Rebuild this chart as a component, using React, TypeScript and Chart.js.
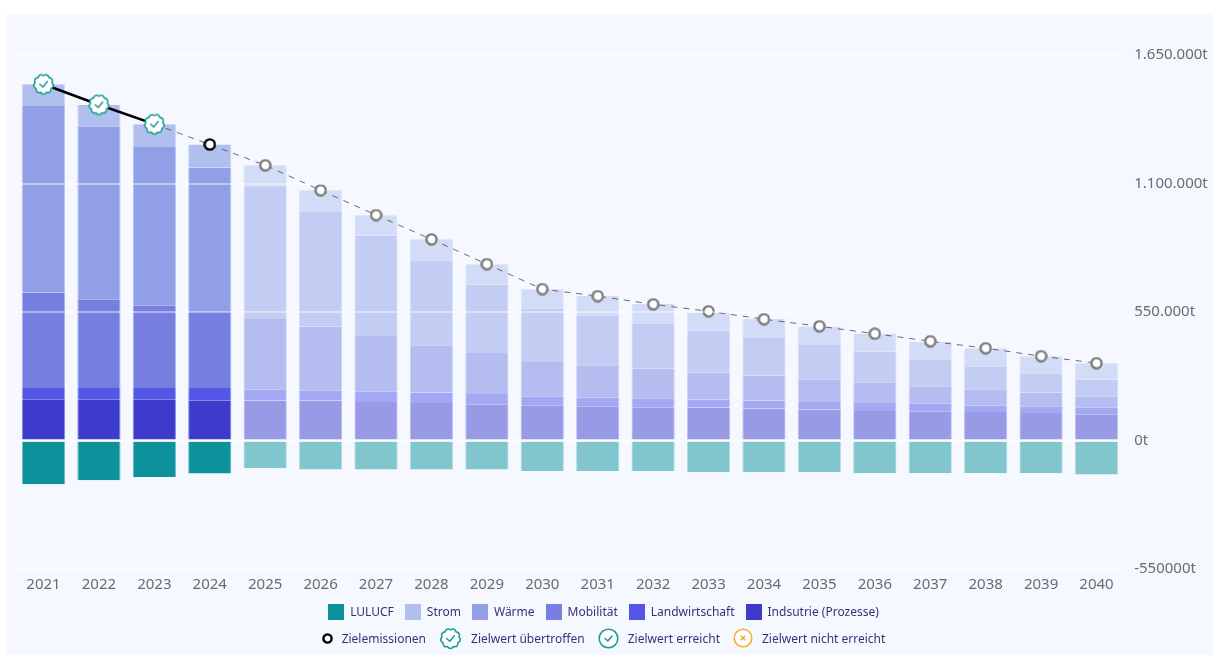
import React, { useEffect, useRef } from "react";
import { Chart, registerables } from "chart.js";

Chart.register(...registerables);

const years = ["2021","2022","2023","2024","2025","2026","2027","2028","2029","2030","2031","2032","2033","2034","2035","2036","2037","2038","2039","2040"];
const industrie = [176800,176800,176800,172500,171200,171200,165200,160900,155400,151100,146800,142500,141000,137000,132700,126700,125000,122400,118100,112600];
const landwirtschaft = [48400,48400,48400,52600,48400,44100,45800,44500,44100,38500,38500,38500,33000,34200,32500,34200,34200,28700,28700,30000];
const mobilitaet = [408300,379600,354000,325300,300900,272600,236700,202400,175500,146800,137000,127100,116800,107000,97200,88600,72800,68500,58600,47100];
const waerme = [798600,740400,677500,618000,565000,490500,429700,360800,292800,229800,211000,193900,179800,160900,146800,131400,113000,98400,82600,69800];
const strom = [92900,91200,97200,98400,92900,92900,86900,92900,86900,81300,85600,82600,77000,81300,78800,77000,77000,77000,72800,71500];
const lulucf = [-187000,-169900,-155800,-141200,-118600,-124100,-124100,-124100,-124100,-130100,-130100,-130100,-135700,-135700,-135700,-140000,-140000,-140000,-140000,-145500];
const zielemissionen = [1525000,1437000,1354000,1267000,1178000,1071000,965000,861000,755000,648000,618000,583000,553000,519000,489000,457000,425000,395000,361000,331000];
const pastYears = 4;
const exceededYears = 3;

const TEAL = "#1f9d8e";
const ORANGE = "#f5ab2e";
const TEXT = "#3a3078";
const FONT = '"Noto Sans", sans-serif';

type Rgb = [number, number, number];
const cLulucf: Rgb = [13, 145, 155];
const cStrom: Rgb = [177, 191, 239];
const cWaerme: Rgb = [145, 159, 230];
const cMob: Rgb = [118, 127, 224];
const cLand: Rgb = [82, 88, 229];
const cInd: Rgb = [60, 59, 203];

const rgba = (c: Rgb, a: number) => `rgba(${c[0]},${c[1]},${c[2]},${a})`;
const fills = (c: Rgb) => years.map((_, i) => rgba(c, i < pastYears ? 1 : 0.5));
const edges = (c: Rgb) => years.map((_, i) => rgba(c, i < pastYears ? 0.6 : 0.28));

function drawBadge(ctx: CanvasRenderingContext2D, cx: number, cy: number, r: number, color: string) {
  const bumps = 9;
  ctx.beginPath();
  for (let i = 0; i < bumps; i++) {
    const a0 = (i / bumps) * Math.PI * 2 - Math.PI / 2;
    const a1 = ((i + 0.5) / bumps) * Math.PI * 2 - Math.PI / 2;
    const a2 = ((i + 1) / bumps) * Math.PI * 2 - Math.PI / 2;
    const inner = r * 0.84;
    if (i === 0) ctx.moveTo(cx + Math.cos(a0) * inner, cy + Math.sin(a0) * inner);
    ctx.quadraticCurveTo(cx + Math.cos(a1) * r * 1.14, cy + Math.sin(a1) * r * 1.14, cx + Math.cos(a2) * inner, cy + Math.sin(a2) * inner);
  }
  ctx.closePath();
  ctx.fillStyle = "#fff";
  ctx.fill();
  ctx.strokeStyle = color;
  ctx.lineWidth = 1.6;
  ctx.stroke();
}

function drawCheck(ctx: CanvasRenderingContext2D, cx: number, cy: number, s: number, color: string) {
  ctx.beginPath();
  ctx.moveTo(cx - s, cy);
  ctx.lineTo(cx - s * 0.2, cy + s * 0.75);
  ctx.lineTo(cx + s, cy - s * 0.7);
  ctx.strokeStyle = color;
  ctx.lineWidth = 1.6;
  ctx.lineCap = "round";
  ctx.lineJoin = "round";
  ctx.stroke();
}

function paintIcon(cv: HTMLCanvasElement, kind: string, size: number) {
  cv.width = size;
  cv.height = size;
  const ctx = cv.getContext("2d");
  if (!ctx) return cv;
  const c = size / 2;
  if (kind === "badge") {
    drawBadge(ctx, c, c, c - 1.2, TEAL);
    drawCheck(ctx, c, c, size * 0.16, TEAL);
  } else if (kind === "circleCheck" || kind === "circleX") {
    const color = kind === "circleCheck" ? TEAL : ORANGE;
    ctx.beginPath();
    ctx.arc(c, c, c - 1.2, 0, Math.PI * 2);
    ctx.fillStyle = "#fff";
    ctx.fill();
    ctx.strokeStyle = color;
    ctx.lineWidth = 1.6;
    ctx.stroke();
    if (kind === "circleCheck") {
      drawCheck(ctx, c, c, size * 0.16, color);
    } else {
      const s = size * 0.11;
      ctx.beginPath();
      ctx.moveTo(c - s, c - s);
      ctx.lineTo(c + s, c + s);
      ctx.moveTo(c + s, c - s);
      ctx.lineTo(c - s, c + s);
      ctx.lineWidth = 1.5;
      ctx.stroke();
    }
  } else {
    ctx.beginPath();
    ctx.arc(c, c, c - 1.4, 0, Math.PI * 2);
    ctx.fillStyle = "#fff";
    ctx.fill();
    ctx.strokeStyle = kind === "dot" ? "#000" : "#7c7c7c";
    ctx.lineWidth = 2.4;
    ctx.stroke();
  }
  return cv;
}

function Icon({ kind, size }: { kind: string; size: number }) {
  const ref = useRef<HTMLCanvasElement>(null);
  useEffect(() => {
    if (ref.current) paintIcon(ref.current, kind, size);
  }, [kind, size]);
  return <canvas ref={ref} style={{ width: size, height: size, flex: "none" }} />;
}

const barLegend: [string, Rgb][] = [
  ["LULUCF", cLulucf],
  ["Strom", cStrom],
  ["Wärme", cWaerme],
  ["Mobilität", cMob],
  ["Landwirtschaft", cLand],
  ["Indsutrie (Prozesse)", cInd],
];
const iconLegend: [string, string, number][] = [
  ["Zielemissionen", "dot", 11],
  ["Zielwert übertroffen", "badge", 23],
  ["Zielwert erreicht", "circleCheck", 21],
  ["Zielwert nicht erreicht", "circleX", 20],
];

export default function App() {
  const ref = useRef<HTMLCanvasElement>(null);

  useEffect(() => {
    if (!ref.current) return;
    const badge = paintIcon(document.createElement("canvas"), "badge", 23);
    const dot = paintIcon(document.createElement("canvas"), "dot", 13);
    const ring = paintIcon(document.createElement("canvas"), "ring", 13);

    const bar = (label: string, data: number[], c: Rgb) => ({
      type: "bar" as const,
      label,
      data,
      backgroundColor: fills(c),
      borderColor: edges(c),
      borderWidth: { left: 1, right: 1, top: 0, bottom: 0 },
      borderSkipped: false,
      stack: "s",
      order: 1,
      barPercentage: 0.78,
      categoryPercentage: 1,
    });

    const chart = new Chart(ref.current, {
      type: "bar",
      data: {
        labels: years,
        datasets: [
          {
            type: "line",
            label: "Zielemissionen",
            data: zielemissionen,
            order: 0,
            tension: 0,
            borderColor: "#000",
            borderWidth: 2.5,
            pointRadius: 6,
            pointStyle: zielemissionen.map((_, i) => (i < exceededYears ? badge : i < pastYears ? dot : ring)),
            segment: {
              borderColor: (ctx: any) => (ctx.p0DataIndex < exceededYears - 1 ? "#000" : "rgba(60,60,60,0.75)"),
              borderWidth: (ctx: any) => (ctx.p0DataIndex < exceededYears - 1 ? 2.5 : 1),
              borderDash: (ctx: any) => (ctx.p0DataIndex < exceededYears - 1 ? [] : [6, 6]),
            },
          },
          bar("LULUCF", lulucf, cLulucf),
          bar("Indsutrie (Prozesse)", industrie, cInd),
          bar("Landwirtschaft", landwirtschaft, cLand),
          bar("Mobilität", mobilitaet, cMob),
          bar("Wärme", waerme, cWaerme),
          bar("Strom", strom, cStrom),
        ] as any,
      },
      options: {
        animation: false,
        responsive: false,
        layout: { padding: { left: 8.8, top: 41, right: 0, bottom: 0 } },
        plugins: { legend: { display: false }, tooltip: { enabled: false } },
        scales: {
          x: {
            stacked: true,
            grid: { display: false, drawTicks: false },
            border: { display: false },
            afterFit: (a: any) => { a.height = 35; },
            ticks: { color: "#6b6b70", font: { family: FONT, size: 15 }, padding: 7, maxRotation: 0, autoSkip: false },
          },
          y: {
            position: "right",
            stacked: true,
            min: -550000,
            max: 1650000,
            afterFit: (a: any) => { a.width = 88.8; },
            grid: { color: "rgba(255,255,255,0.42)", lineWidth: 2, z: 1, drawTicks: false },
            border: { display: false },
            ticks: {
              stepSize: 550000,
              padding: 10,
              color: "#6b6b70",
              font: { family: FONT, size: 15 },
              callback: (v: any) => (v < 0 ? `${v}t` : `${String(v).replace(/\B(?=(\d{3})+$)/g, ".")}t`),
            },
          },
        },
      },
    });
    return () => chart.destroy();
  }, []);

  const row: React.CSSProperties = {
    position: "absolute",
    left: 0,
    width: 1207,
    display: "flex",
    justifyContent: "center",
    alignItems: "center",
    fontFamily: FONT,
    fontSize: 12,
    color: TEXT,
    whiteSpace: "nowrap",
  };

  return (
    <div style={{ position: "absolute", left: 0, top: 0, width: 1213, height: 655, background: "#fff", overflow: "hidden" }}>
      <div style={{ position: "absolute", left: 7, top: 14, width: 1206, height: 641, background: "#f5f8ff" }}>
        <canvas ref={ref} width={1206} height={590} style={{ display: "block", width: 1206, height: 590 }} />
      </div>
      <div style={{ ...row, top: 603, height: 17, gap: 11 }}>
        {barLegend.map(([label, c]) => (
          <span key={label} style={{ display: "flex", alignItems: "center", gap: 6 }}>
            <i style={{ display: "block", width: 16, height: 16, background: rgba(c, 1) }} />
            {label}
          </span>
        ))}
      </div>
      <div style={{ ...row, top: 626, height: 24, gap: 13 }}>
        {iconLegend.map(([label, kind, size]) => (
          <span key={label} style={{ display: "flex", alignItems: "center", gap: 9 }}>
            <Icon kind={kind} size={size} />
            {label}
          </span>
        ))}
      </div>
    </div>
  );
}
